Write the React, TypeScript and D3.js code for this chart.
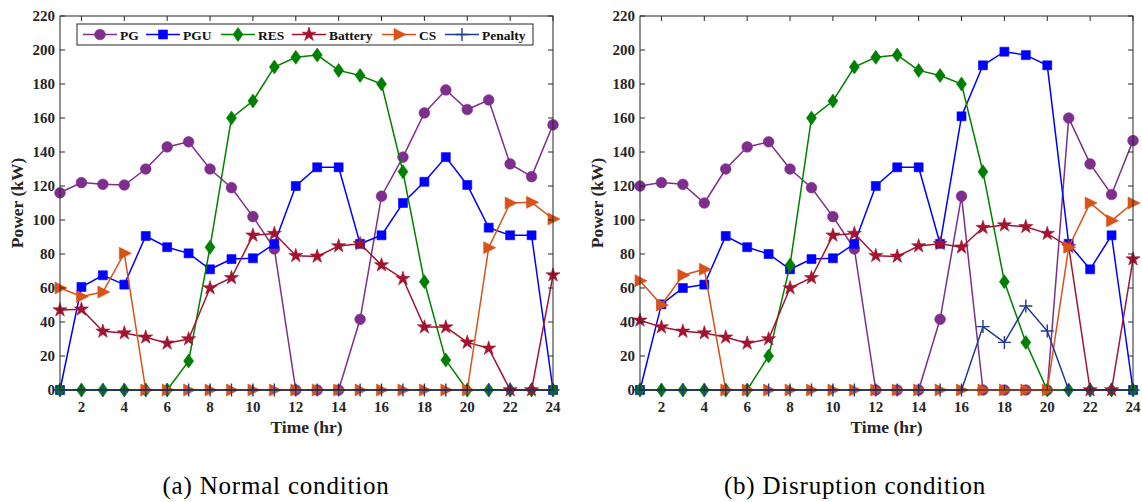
import React from "react";
import * as d3 from "d3";

// Hours of the day (x categories)
const hours = [1, 2, 3, 4, 5, 6, 7, 8, 9, 10, 11, 12, 13, 14, 15, 16, 17, 18, 19, 20, 21, 22, 23, 24];
const xTicks = [2, 4, 6, 8, 10, 12, 14, 16, 18, 20, 22, 24];
const yTicks = [0, 20, 40, 60, 80, 100, 120, 140, 160, 180, 200, 220];

// (a) Normal condition
const pgNormal = [116, 122, 121, 120.6, 130, 143, 146, 130, 119, 102, 83, 0, 0, 0, 41.6, 114, 137, 163, 176.5, 165, 170.6, 133, 125.5, 156];
const pguNormal = [0, 60.6, 67.5, 62, 90.6, 84, 80.4, 71, 77, 77.5, 86, 120, 131, 131, 86, 91, 110, 122.5, 137, 120.6, 95.5, 91, 91, 0];
const resNormal = [0, 0, 0, 0, 0, 0, 17, 84, 160, 170, 190, 195.7, 197, 188, 185, 180, 128.4, 63.7, 17.6, 0, 0, 0, 0, 0];
const batteryNormal = [47, 47.5, 34.5, 33.5, 31, 27.5, 30, 60, 66, 91, 92, 79, 78.6, 84.7, 86, 73.5, 65.5, 37, 37, 28, 24.5, 0, 0, 67.6];
const csNormal = [60, 55, 57.6, 80.4, 0, 0, 0, 0, 0, 0, 0, 0, 0, 0, 0, 0, 0, 0, 0, 0, 83.7, 110, 110.4, 100.6];
const penaltyNormal = [0, 0, 0, 0, 0, 0, 0, 0, 0, 0, 0, 0, 0, 0, 0, 0, 0, 0, 0, 0, 0, 0, 0, 0];

// (b) Disruption condition
const pgDisruption = [120, 122, 121, 110, 130, 143, 146, 130, 119, 102, 83, 0, 0, 0, 41.6, 114, 0, 0, 0, 0, 160, 133, 115, 146.7];
const pguDisruption = [0, 50.4, 60, 62, 90.6, 84, 80, 71, 77, 77.5, 86, 120, 131, 131, 86, 161, 191, 199, 197, 191, 86, 71, 91, 0];
const resDisruption = [0, 0, 0, 0, 0, 0, 20, 73.5, 160, 170, 190, 195.7, 197, 188, 185, 180, 128.4, 63.7, 28, 0, 0, 0, 0, 0];
const batteryDisruption = [41, 37, 34.5, 33.5, 31, 27.5, 30, 60, 66, 91, 92, 79, 78.6, 84.7, 86, 84, 95.5, 97, 96, 92, 84.3, 0, 0, 77];
const csDisruption = [64.3, 50, 67.5, 71, 0, 0, 0, 0, 0, 0, 0, 0, 0, 0, 0, 0, 0, 0, 0, 0, 84, 110, 99.6, 110];
const penaltyDisruption = [0, 0, 0, 0, 0, 0, 0, 0, 0, 0, 0, 0, 0, 0, 0, 0, 37.3, 28, 49.4, 34.7, 0, 0, 0, 0];

const seriesNames = ["PG", "PGU", "RES", "Battery", "CS", "Penalty"];
const colors = ["#7E2F8E", "#0000FF", "#008000", "#A2142F", "#D95319", "#1F3A93"];

const font = "'Liberation Serif', 'Times New Roman', serif";

/** Marker shape for each series, centred on 0,0 */
function markerPath(name: string) {
  switch (name) {
    case "PG":
      return d3.symbol(d3.symbolCircle, 90)()!;
    case "PGU":
      return "M-4.5,-4.5H4.5V4.5H-4.5Z";
    case "RES":
      return "M0,-7L5,0L0,7L-5,0Z";
    case "Battery":
      return d3.symbol(d3.symbolStar, 62)()!;
    case "CS":
      return "M-5,-6L7,0L-5,6Z";
    default:
      return "M-6.5,0H6.5M0,-6.5V6.5";
  }
}

function Marker({ name, color, x, y }: { name: string; color: string; x: number; y: number }) {
  const isPlus = name === "Penalty";
  return (
    <path
      d={markerPath(name)}
      transform={`translate(${x},${y})`}
      fill={isPlus ? "none" : color}
      stroke={color}
      strokeWidth={isPlus ? 1.4 : 0.6}
    />
  );
}

function Panel({ left, series }: { left: number; series: number[][] }) {
  const top = 16;
  const bottom = 390;
  const width = 493;
  const x = d3.scaleLinear().domain([1, 24]).range([left, left + width]);
  const y = d3.scaleLinear().domain([0, 220]).range([bottom, top]);
  const line = d3
    .line<number>()
    .x((_, i) => x(hours[i]))
    .y((d) => y(d));
  const axisColor = "#262626";

  return (
    <g>
      {/* series lines and markers */}
      {series.map((vals, si) => (
        <g key={seriesNames[si]}>
          <path d={line(vals)!} fill="none" stroke={colors[si]} strokeWidth={1.5} />
          {vals.map((v, i) => (
            <Marker key={i} name={seriesNames[si]} color={colors[si]} x={x(hours[i])} y={y(v)} />
          ))}
        </g>
      ))}

      {/* frame */}
      <rect x={left} y={top} width={width} height={bottom - top} fill="none" stroke={axisColor} strokeWidth={1} />

      {/* x ticks */}
      {xTicks.map((t) => (
        <g key={t}>
          <line x1={x(t)} x2={x(t)} y1={bottom} y2={bottom - 5} stroke={axisColor} />
          <line x1={x(t)} x2={x(t)} y1={top} y2={top + 5} stroke={axisColor} />
          <text x={x(t)} y={412} textAnchor="middle" fontFamily={font} fontWeight="bold" fontSize={15} fill="#262626">
            {t}
          </text>
        </g>
      ))}

      {/* y ticks */}
      {yTicks.map((t) => (
        <g key={t}>
          <line x1={left} x2={left + 5} y1={y(t)} y2={y(t)} stroke={axisColor} />
          <line x1={left + width} x2={left + width - 5} y1={y(t)} y2={y(t)} stroke={axisColor} />
          <text x={left - 5} y={y(t) + 5} textAnchor="end" fontFamily={font} fontWeight="bold" fontSize={15} fill="#262626">
            {t}
          </text>
        </g>
      ))}

      {/* axis labels */}
      <text
        transform={`translate(${left - 37},${(top + bottom) / 2}) rotate(-90)`}
        textAnchor="middle"
        fontFamily={font}
        fontWeight="bold"
        fontSize={17.5}
        fill="#262626"
      >
        Power (kW)
      </text>
      <text x={left + width / 2} y={433} textAnchor="middle" fontFamily={font} fontWeight="bold" fontSize={17.5} fill="#262626">
        Time (hr)
      </text>
    </g>
  );
}

function Legend({ left }: { left: number }) {
  // offsets of each entry's line start inside the legend box
  const offsets = [6, 69, 144, 215, 305, 368];
  return (
    <g>
      <rect x={left} y={24} width={456} height={21} fill="white" stroke="#262626" strokeWidth={1} />
      {seriesNames.map((name, i) => {
        const x0 = left + offsets[i];
        return (
          <g key={name}>
            <line x1={x0} x2={x0 + 34} y1={34.5} y2={34.5} stroke={colors[i]} strokeWidth={1.5} />
            <Marker name={name} color={colors[i]} x={x0 + 17} y={34.5} />
            <text x={x0 + 37} y={39.5} fontFamily={font} fontWeight="bold" fontSize={13.5} fill="#111">
              {name}
            </text>
          </g>
        );
      })}
    </g>
  );
}

export default function App() {
  const normal = [pgNormal, pguNormal, resNormal, batteryNormal, csNormal, penaltyNormal];
  const disruption = [pgDisruption, pguDisruption, resDisruption, batteryDisruption, csDisruption, penaltyDisruption];
  return (
    <svg width={1142} height={502} style={{ position: "absolute", left: 0, top: 0, background: "white" }}>
      <rect width={1142} height={502} fill="white" />
      <Panel left={60} series={normal} />
      <Legend left={77} />
      <Panel left={640} series={disruption} />
      <text x={276} y={494} textAnchor="middle" fontFamily={font} fontSize={25} letterSpacing={0.8} fill="#000">
        (a) Normal condition
      </text>
      <text x={855} y={494} textAnchor="middle" fontFamily={font} fontSize={25} letterSpacing={0.8} fill="#000">
        (b) Disruption condition
      </text>
    </svg>
  );
}
